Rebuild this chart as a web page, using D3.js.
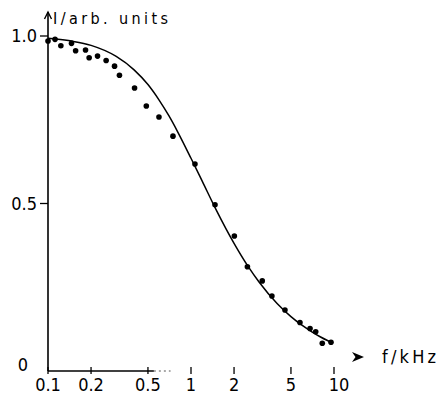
<!DOCTYPE html>
<html><head><meta charset="utf-8">
<script src="https://cdn.jsdelivr.net/npm/d3@7/dist/d3.min.js"></script>
<style>
html,body{margin:0;padding:0;background:#fff;}
svg text{font-family:"DejaVu Sans Condensed","DejaVu Sans",sans-serif;fill:#000;}
</style></head>
<body><svg id="c" width="437" height="399"></svg>
<script>
// measured points (f in kHz, intensity in arb. units)
const pointF = [0.1,0.112,0.123,0.146,0.156,0.183,0.194,0.222,0.255,0.292,0.316,0.403,0.487,0.597,0.748,1.066,1.472,2.01,2.48,3.15,3.68,4.54,5.78,6.80,7.45,8.28,9.53];
const pointI = [0.985,0.990,0.971,0.978,0.956,0.958,0.935,0.940,0.927,0.910,0.883,0.845,0.791,0.758,0.701,0.618,0.496,0.403,0.311,0.269,0.224,0.182,0.145,0.127,0.117,0.083,0.086];
// fitted curve
const curveF = [0.1,0.15,0.2,0.3,0.4,0.5,0.6,0.7,0.8,1.0,1.2,1.5,2,2.5,3,4,5,6,7,8,9,9.7];
const curveI = [0.993,0.984,0.972,0.939,0.899,0.855,0.808,0.762,0.717,0.635,0.566,0.481,0.381,0.313,0.265,0.2015,0.1624,0.136,0.117,0.1023,0.091,0.0845];
const xTicks = [0.1,0.2,0.5,1,2,5,10];
const xTickLabels = ["0.1","0.2","0.5","1","2","5","10"];
const yTicks = [0,0.5,1.0];
const yTickLabels = ["0","0.5","1.0"];

const svg = d3.select("#c");
const x = d3.scaleLog().domain([0.1,10]).range([48,334]);
const y = d3.scaleLinear().domain([0,1]).range([371,36]);

// y axis line + arrow
svg.append("line").attr("x1",48).attr("x2",48).attr("y1",y(0)).attr("y2",12)
  .attr("stroke","#000").attr("stroke-width",1.6);
svg.append("path").attr("d","M44.5,19 L48,12 L51.5,19").attr("fill","none")
  .attr("stroke","#000").attr("stroke-width",1.4);

// x axis line (solid part, then faint dashes as in the scan)
svg.append("line").attr("x1",48).attr("x2",x(0.55)).attr("y1",y(0)).attr("y2",y(0))
  .attr("stroke","#000").attr("stroke-width",1.6);
svg.append("line").attr("x1",x(0.55)).attr("x2",x(0.72)).attr("y1",y(0)).attr("y2",y(0))
  .attr("stroke","#555").attr("stroke-width",1).attr("stroke-dasharray","2,3");

// x ticks
svg.selectAll(".xt").data(xTicks).enter().append("line")
  .attr("x1",d=>x(d)).attr("x2",d=>x(d)).attr("y1",y(0)-4).attr("y2",y(0)+3)
  .attr("stroke","#000").attr("stroke-width",1.3);
svg.selectAll(".xl").data(xTicks).enter().append("text")
  .attr("x",d=>x(d)+(d===10?5:0)).attr("y",391).attr("text-anchor","middle")
  .attr("font-size",18).text((d,i)=>xTickLabels[i]);

// y ticks
svg.selectAll(".yt").data(yTicks.filter(d=>d>0)).enter().append("line")
  .attr("x1",40).attr("x2",48).attr("y1",d=>y(d)).attr("y2",d=>y(d))
  .attr("stroke","#000").attr("stroke-width",1.3);
svg.selectAll(".yl").data(yTicks).enter().append("text")
  .attr("x",d=>d===0?28:37).attr("y",d=>y(d)+(d===0?0:6)).attr("text-anchor","end")
  .attr("font-size",18).text((d,i)=>yTickLabels[i]);

// axis labels
svg.append("text").attr("x",53).attr("y",24).attr("font-size",16)
  .attr("textLength",115).attr("lengthAdjust","spacing").text("I/arb. units");
svg.append("path").attr("d","M352,352 L364,357 L352,362 L355.5,357 Z").attr("fill","#000");
svg.append("text").attr("x",382).attr("y",363).attr("font-size",18)
  .attr("textLength",54).attr("lengthAdjust","spacing").text("f/kHz");

// curve
const line = d3.line().x(d=>x(d[0])).y(d=>y(d[1])).curve(d3.curveMonotoneX);
svg.append("path").datum(curveF.map((f,i)=>[f,curveI[i]]))
  .attr("d",line).attr("fill","none").attr("stroke","#000").attr("stroke-width",1.5);

// points
svg.selectAll(".pt").data(pointF.map((f,i)=>[f,pointI[i]])).enter().append("circle")
  .attr("cx",d=>x(d[0])).attr("cy",d=>y(d[1])).attr("r",2.8).attr("fill","#000");
</script></body></html>
